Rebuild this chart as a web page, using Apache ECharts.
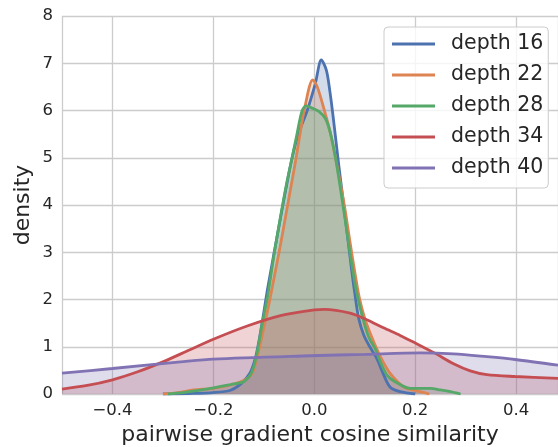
<!DOCTYPE html>
<html>
<head>
<meta charset="utf-8">
<script src="https://cdn.jsdelivr.net/npm/echarts@6/dist/echarts.min.js"></script>
<style>
html,body{margin:0;padding:0;background:#fff;}
#chart{width:558px;height:447px;}
</style>
</head>
<body>
<div id="chart"></div>
<script>
const seriesNames = ['depth 16', 'depth 22', 'depth 28', 'depth 34', 'depth 40'];
const colors = ['#4C72B0', '#DD8452', '#55A868', '#C44E52', '#8172B3'];

const d16x = [-0.30, -0.25, -0.20, -0.166, -0.145, -0.127, -0.117, -0.11, -0.102, -0.093, -0.082, -0.070, -0.057, -0.044, -0.031, -0.014, 0.002, 0.014, 0.024, 0.031, 0.037, 0.043, 0.049, 0.056, 0.064, 0.072, 0.080, 0.088, 0.098, 0.11, 0.124, 0.137, 0.15, 0.17, 0.20];
const d16y = [0, 0.01, 0.03, 0.08, 0.22, 0.45, 0.75, 1.1, 1.6, 2.2, 2.85, 3.55, 4.3, 5.0, 5.52, 6.0, 6.57, 7.07, 6.85, 6.4, 5.9, 5.35, 4.8, 4.2, 3.5, 2.8, 2.15, 1.6, 1.25, 1.0, 0.75, 0.42, 0.15, 0.05, 0];

const d22x = [-0.30, -0.27, -0.239, -0.2, -0.166, -0.137, -0.123, -0.113, -0.1, -0.089, -0.079, -0.068, -0.057, -0.046, -0.036, -0.028, -0.02, -0.003, 0.006, 0.02, 0.032, 0.042, 0.051, 0.061, 0.071, 0.08, 0.089, 0.1, 0.114, 0.131, 0.15, 0.177, 0.197, 0.228];
const d22y = [0, 0.03, 0.085, 0.12, 0.19, 0.3, 0.44, 0.79, 1.4, 1.95, 2.5, 3.1, 3.75, 4.4, 5.0, 5.52, 6.0, 6.65, 6.5, 6.0, 5.52, 5.0, 4.5, 3.9, 3.2, 2.6, 2.05, 1.6, 1.2, 0.79, 0.44, 0.15, 0.08, 0];

const d28x = [-0.29, -0.26, -0.226, -0.2, -0.166, -0.14, -0.125, -0.115, -0.103, -0.092, -0.079, -0.067, -0.055, -0.044, -0.034, -0.024, -0.016, -0.004, 0.009, 0.022, 0.032, 0.042, 0.051, 0.061, 0.072, 0.083, 0.095, 0.108, 0.121, 0.131, 0.144, 0.16, 0.19, 0.23, 0.25, 0.27, 0.29];
const d28y = [0, 0.03, 0.08, 0.13, 0.2, 0.26, 0.44, 0.79, 1.5, 2.1, 3.0, 3.75, 4.45, 5.0, 5.52, 6.0, 6.1, 6.05, 5.98, 5.83, 5.52, 5.0, 4.4, 3.7, 2.9, 2.2, 1.65, 1.2, 0.95, 0.68, 0.40, 0.26, 0.12, 0.12, 0.085, 0.05, 0];

const d34x = [-0.5, -0.45, -0.4, -0.35, -0.3, -0.25, -0.2, -0.133, -0.067, 0.0, 0.02, 0.071, 0.104, 0.137, 0.17, 0.2, 0.238, 0.276, 0.309, 0.342, 0.398, 0.483];
const d34y = [0.105, 0.18, 0.3, 0.47, 0.68, 0.92, 1.16, 1.44, 1.66, 1.78, 1.79, 1.71, 1.57, 1.40, 1.24, 1.08, 0.87, 0.64, 0.49, 0.41, 0.37, 0.33];

const d40x = [-0.5, -0.4, -0.265, -0.2, -0.008, 0.1, 0.21, 0.276, 0.342, 0.398, 0.483];
const d40y = [0.44, 0.54, 0.68, 0.74, 0.81, 0.84, 0.87, 0.85, 0.79, 0.73, 0.61];

const xsAll = [d16x, d22x, d28x, d34x, d40x];
const ysAll = [d16y, d22y, d28y, d34y, d40y];

const FONT = 'DejaVu Sans';
const TXT = '#262626';
const GRID = '#cccccc';

const series = seriesNames.map((name, i) => ({
  name: name,
  type: 'line',
  data: xsAll[i].map((x, j) => [x, ysAll[i][j]]),
  smooth: 0.3,
  showSymbol: false,
  symbol: 'none',
  clip: true,
  lineStyle: { color: colors[i], width: 2.8 },
  itemStyle: { color: colors[i] },
  areaStyle: { color: colors[i], opacity: 0.25, origin: 'start' },
  z: 2
}));

const chart = echarts.init(document.getElementById('chart'), null, { renderer: 'canvas' });
chart.setOption({
  animation: false,
  backgroundColor: '#ffffff',
  textStyle: { fontFamily: FONT, color: TXT },
  grid: { left: 62, right: 0, top: 16, bottom: 53, containLabel: false, outerBoundsMode: 'none' },
  xAxis: {
    type: 'value',
    min: -0.5,
    max: 0.483,
    splitNumber: 5,
    axisLine: { show: false },
    axisTick: { show: false },
    axisLabel: {
      showMinLabel: false, showMaxLabel: false,
      fontFamily: FONT, fontSize: 16.5, color: TXT, margin: 8,
      formatter: v => (v < 0 ? '\u2212' : '') + Math.abs(v).toFixed(1)
    },
    splitLine: { show: true, lineStyle: { color: GRID, width: 1.3 } },
    name: 'pairwise gradient cosine similarity',
    nameLocation: 'middle',
    nameGap: 26,
    nameTextStyle: { fontFamily: FONT, fontSize: 22, color: TXT }
  },
  yAxis: {
    type: 'value',
    min: 0,
    max: 8,
    interval: 1,
    axisLine: { show: false },
    axisTick: { show: false },
    axisLabel: { fontFamily: FONT, fontSize: 16.5, color: TXT, margin: 9 },
    splitLine: { show: true, lineStyle: { color: GRID, width: 1.3 } },
    name: 'density',
    nameLocation: 'middle',
    nameGap: 28,
    nameMoveOverlap: false,
    nameTextStyle: { fontFamily: FONT, fontSize: 22, color: TXT }
  },
  legend: {
    orient: 'vertical',
    left: 384,
    top: 27,
    padding: [6, 5, 9, 8],
    itemGap: 9,
    itemWidth: 43,
    itemHeight: 3,
    icon: 'rect',
    backgroundColor: 'rgba(255,255,255,0.8)',
    borderColor: '#cccccc',
    borderWidth: 1,
    borderRadius: 4,
    textStyle: { fontFamily: FONT, fontSize: 20.5, color: TXT, lineHeight: 22, padding: [0, 0, 0, 11] },
    data: seriesNames
  },
  series: series
});
</script>
</body>
</html>
